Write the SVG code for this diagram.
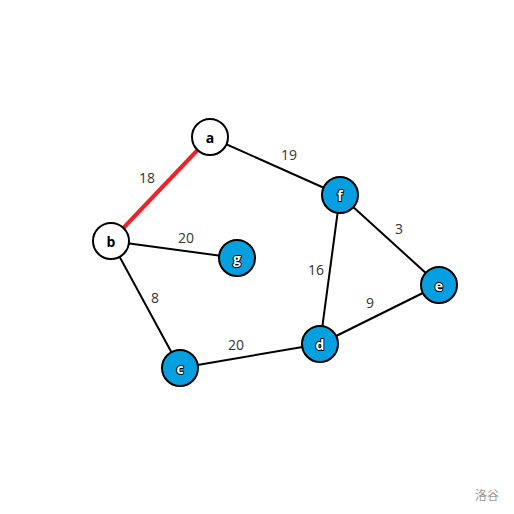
<svg xmlns="http://www.w3.org/2000/svg" width="514" height="514" viewBox="0 0 514 514">
<style>
.bg{fill:#fff}
.e{stroke:#000;stroke-width:2;fill:none}
.hl{stroke:#ee2229;stroke-width:4;fill:none}
.n{stroke:#000;stroke-width:2}
.w{fill:#fff}
.bl{fill:#069fdf}
.t{font-family:"Open Sans","Noto Sans",sans-serif;font-size:14px;font-weight:bold;text-anchor:middle;dominant-baseline:central}
.tb{fill:#000}
.tw{fill:#fff;stroke:#000;stroke-width:2;paint-order:stroke;stroke-linejoin:round}
.l{font-family:"Open Sans","Noto Sans",sans-serif;font-size:14px;fill:#333;text-anchor:middle;dominant-baseline:central}
.wm{font-family:"Noto Sans CJK SC",sans-serif;font-size:12px;fill:#999;text-anchor:middle;dominant-baseline:central}
</style>
<rect class="bg" width="514" height="514"/>
<g id="connectors">
<line class="hl" x1="210" y1="137" x2="111" y2="241"/>
<line class="e" x1="210" y1="137" x2="340" y2="195"/>
<line class="e" x1="111" y1="241" x2="237" y2="258"/>
<line class="e" x1="111" y1="241" x2="180" y2="368"/>
<line class="e" x1="180" y1="368" x2="320" y2="344"/>
<line class="e" x1="340" y1="195" x2="320" y2="344"/>
<line class="e" x1="340" y1="195" x2="439" y2="285"/>
<line class="e" x1="320" y1="344" x2="439" y2="285"/>
<text class="l" x="147" y="177">18</text>
<text class="l" x="289" y="154">19</text>
<text class="l" x="186" y="237">20</text>
<text class="l" x="155" y="297">8</text>
<text class="l" x="236" y="344">20</text>
<text class="l" x="316" y="269">16</text>
<text class="l" x="399" y="228">3</text>
<text class="l" x="370" y="302">9</text>
</g>
<g id="node-a"><circle class="n w" cx="210" cy="137" r="18"/><text class="t tb" x="210" y="137">a</text></g>
<g id="node-b"><circle class="n w" cx="111" cy="241" r="18"/><text class="t tb" x="111" y="241">b</text></g>
<g id="node-g"><circle class="n bl" cx="237" cy="258" r="18"/><text class="t tw" x="237" y="258">g</text></g>
<g id="node-f"><circle class="n bl" cx="340" cy="195" r="18"/><text class="t tw" x="340" y="195">f</text></g>
<g id="node-e"><circle class="n bl" cx="439" cy="285" r="18"/><text class="t tw" x="439" y="285">e</text></g>
<g id="node-d"><circle class="n bl" cx="320" cy="344" r="18"/><text class="t tw" x="320" y="344">d</text></g>
<g id="node-c"><circle class="n bl" cx="180" cy="368" r="18"/><text class="t tw" x="180" y="368">c</text></g>
<text class="wm" x="487" y="494">洛谷</text>
</svg>
